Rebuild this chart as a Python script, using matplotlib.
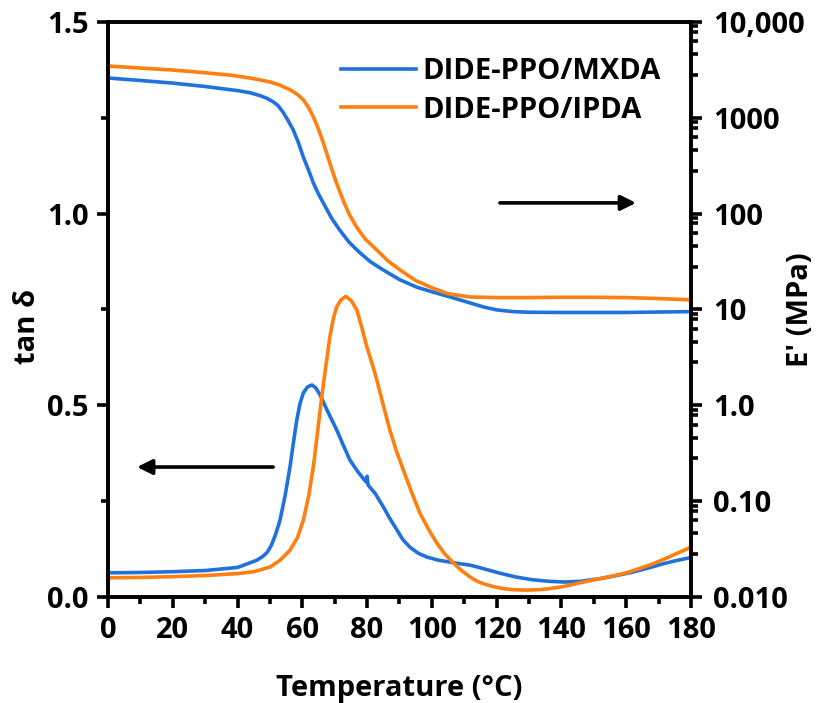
import matplotlib
matplotlib.use("Agg")
import matplotlib.pyplot as plt
from matplotlib.ticker import FixedLocator, NullFormatter
import numpy as np

plt.rcParams['font.family'] = ['Open Sans', 'DejaVu Sans']
plt.rcParams['font.weight'] = 'bold'

BLUE = '#2071db'
ORANGE = '#ff7f10'

# tan delta, DIDE-PPO/MXDA
t_mx = [0, 10, 20, 30, 40, 43.8, 46, 48, 49.2, 50.4, 51.7, 53.1, 54.7, 56.2, 57.3, 58.3,
        59.3, 60.3, 61.6, 63, 64.2, 65.5, 68, 70.6, 72.7, 74.7, 77.3, 79.7, 80, 80.3,
        82.5, 85, 87, 89.2, 91, 93.2, 95.8, 98.5, 102, 105.6, 108.5, 111.8, 115, 118,
        121, 126, 131, 136, 141, 146, 152, 157, 162, 167, 172, 176, 180]
tan_mx = [0.063, 0.064, 0.066, 0.069, 0.077, 0.089, 0.096, 0.107, 0.117, 0.134, 0.162,
          0.2, 0.265, 0.34, 0.405, 0.462, 0.505, 0.532, 0.548, 0.553, 0.545, 0.527,
          0.481, 0.436, 0.395, 0.357, 0.325, 0.3, 0.315, 0.292, 0.27, 0.235, 0.205,
          0.175, 0.15, 0.13, 0.114, 0.104, 0.096, 0.091, 0.087, 0.083, 0.076, 0.069,
          0.062, 0.052, 0.045, 0.041, 0.039, 0.041, 0.048, 0.056, 0.065, 0.076, 0.088,
          0.096, 0.103]

# tan delta, DIDE-PPO/IPDA
t_ip = [0, 10, 20, 30, 40, 45, 50, 53, 56.2, 58.5, 60.3, 62, 63.4, 64.7, 66, 67.3, 68.5,
        69.6, 70.6, 72, 73.5, 75.2, 76.8, 78.3, 79.9, 81.5, 83, 85, 87, 89, 91.2, 93.8,
        96.3, 99, 101.5, 104, 106.6, 109, 111.8, 114, 116.5, 119, 122, 125, 129, 133,
        136.5, 141, 146.8, 152, 156, 160, 164, 168.4, 172, 176, 180]
tan_ip = [0.05, 0.051, 0.053, 0.056, 0.061, 0.066, 0.078, 0.095, 0.122, 0.155, 0.2,
          0.265, 0.34, 0.43, 0.522, 0.605, 0.678, 0.727, 0.757, 0.776, 0.784, 0.772,
          0.749, 0.705, 0.653, 0.61, 0.566, 0.5, 0.436, 0.382, 0.331, 0.272, 0.219,
          0.176, 0.141, 0.112, 0.089, 0.07, 0.052, 0.041, 0.033, 0.027, 0.022, 0.019,
          0.018, 0.019, 0.022, 0.028, 0.039, 0.048, 0.055, 0.063, 0.074, 0.087, 0.1,
          0.115, 0.13]

# storage modulus E' (MPa)
te_mx = [0, 10, 20, 30, 40, 44, 47, 49, 51, 52.5, 54, 55.5, 57.2, 58.8, 60.3, 62, 63.4,
         65, 66.5, 69, 71.6, 74.5, 77.8, 81, 85, 90, 95.3, 100, 105.6, 111.8, 116, 120,
         125, 130, 140, 150, 160, 170, 180]
e_mx = [2600, 2450, 2300, 2120, 1920, 1820, 1700, 1600, 1470, 1340, 1150, 950, 747, 550,
        390, 280, 209, 160, 129, 90, 67, 50, 39, 31.5, 25.8, 20.5, 17.1, 15.3, 13.5, 11.7,
        10.6, 9.9, 9.5, 9.35, 9.3, 9.3, 9.3, 9.4, 9.5]
te_ip = [0, 10, 20, 30, 38, 43.8, 47, 50, 53, 56.2, 58.5, 60.3, 62, 63.4, 65, 66.5, 68,
         69.5, 71, 72.6, 74.5, 76.8, 79.5, 83, 86.5, 90.2, 95, 100.3, 105, 111.8, 120,
         130, 140, 150, 160, 170, 180]
e_ip = [3470, 3300, 3150, 2950, 2780, 2600, 2480, 2365, 2200, 1960, 1750, 1540, 1270,
        1025, 760, 546, 380, 265, 190, 138, 98, 72, 54, 41.7, 32, 25.8, 20, 16.7, 14.6,
        13.5, 13.3, 13.3, 13.4, 13.4, 13.3, 13.0, 12.6]

labels = ['DIDE-PPO/MXDA', 'DIDE-PPO/IPDA']

fig = plt.figure(figsize=(8.21, 7.03), dpi=100)
ax = fig.add_axes([0.1315, 0.1508, 0.7102, 0.818])
ax2 = ax.twinx()

lw = 2.6
ax.plot(t_mx, tan_mx, color=BLUE, lw=lw, solid_joinstyle='round')
ax.plot(t_ip, tan_ip, color=ORANGE, lw=lw, solid_joinstyle='round')
l1, = ax2.plot(te_mx, e_mx, color=BLUE, lw=lw, label=labels[0], solid_joinstyle='round')
l2, = ax2.plot(te_ip, e_ip, color=ORANGE, lw=lw, label=labels[1], solid_joinstyle='round')

ax.set_xlim(0, 180)
ax.set_ylim(0, 1.5)
ax2.set_yscale('log')
ax2.set_ylim(0.01, 10000)

fs = 21
ax.set_xticks(np.arange(0, 181, 20))
ax.set_xticks(np.arange(10, 180, 20), minor=True)
ax.set_yticks([0, 0.5, 1.0, 1.5])
ax.set_yticklabels(['0.0', '0.5', '1.0', '1.5'])
ax.set_yticks([0.25, 0.75, 1.25], minor=True)

majors = [0.01, 0.1, 1, 10, 100, 1000, 10000]
ax2.yaxis.set_major_locator(FixedLocator(majors))
ax2.set_yticklabels(['0.010', '0.10', '1.0', '10', '100', '1000', '10,000'])
minor_steps = [2.8, 4.6, 6.3, 7.9, 9.0]
ax2.yaxis.set_minor_locator(FixedLocator([d * m for d in majors[:-1] for m in minor_steps]))
ax2.yaxis.set_minor_formatter(NullFormatter())

for a in (ax, ax2):
    for s in a.spines.values():
        s.set_linewidth(2.6)
    a.tick_params(which='major', length=8, width=2.6, labelsize=fs, pad=6)
    a.tick_params(which='minor', length=5, width=2.6)
ax2.tick_params(axis='y', which='major', pad=8)

ax.set_xlabel('Temperature (°C)', fontsize=fs, fontweight='bold')
ax.xaxis.set_label_coords(0.5, -0.134)
ax.set_ylabel('tan δ', fontsize=fs, fontweight='bold')
ax.yaxis.set_label_coords(-0.113, 0.47)
ax2.set_ylabel("E' (MPa)", fontsize=fs, fontweight='bold')
ax2.yaxis.set_label_coords(1.163, 0.5)

arrow = dict(arrowstyle='-|>,head_length=0.9,head_width=0.45', color='black', lw=2.6,
             shrinkA=0, shrinkB=0)
ax.annotate('', xy=(163, 1.028), xytext=(121, 1.028), arrowprops=arrow)
ax.annotate('', xy=(9, 0.339), xytext=(51, 0.339), arrowprops=arrow)

ax2.legend(handles=[l1, l2], loc='upper left', bbox_to_anchor=(0.4, 0.939),
           frameon=False, fontsize=fs, handlelength=2.55, handletextpad=0.25,
           labelspacing=0.33, borderaxespad=0, borderpad=0)

fig.savefig('out.png', dpi=100)
